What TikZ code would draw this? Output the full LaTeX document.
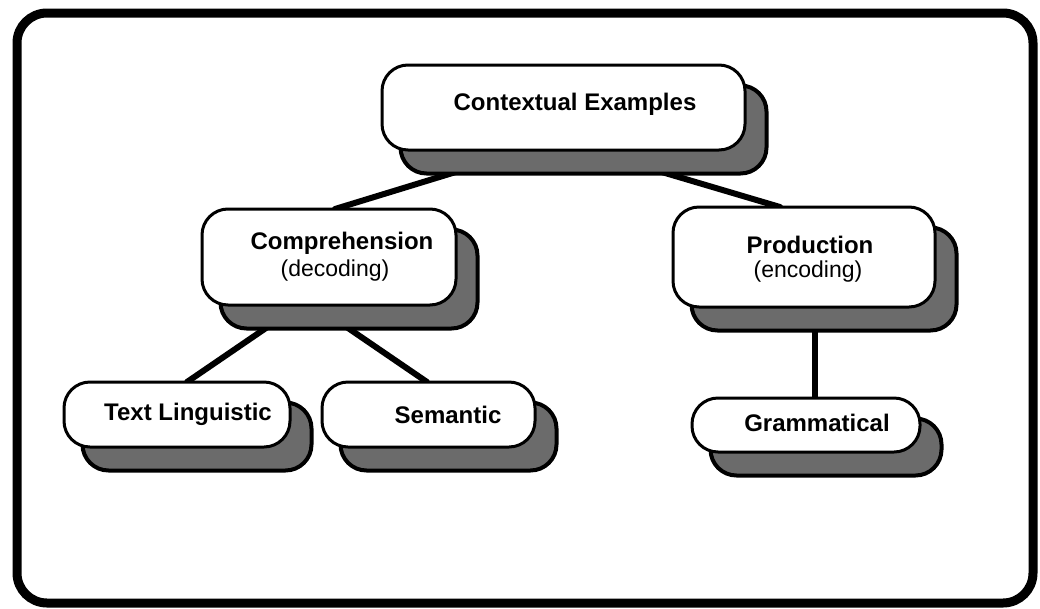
\documentclass[tikz,border=0pt]{standalone}
\usepackage{fontspec}
\setmainfont{Liberation Sans}
\pgfdeclarelayer{connlayer}
\pgfdeclarelayer{shadlayer}
\pgfsetlayers{connlayer,shadlayer,main}
\begin{document}
\begin{tikzpicture}[x=1pt,y=-1pt,
  box/.style={draw=black, line width=3pt, fill=white, rounded corners=26pt, inner sep=0pt},
  shade/.style={fill=black!58, draw=black, line width=4pt, rounded corners=26pt},
  conn/.style={line width=6pt, line cap=round},
  lbl/.style={font=\fontsize{24}{28}\selectfont\bfseries, inner sep=0pt},
  sublbl/.style={font=\fontsize{23}{27}\selectfont, inner sep=0pt}]
\useasboundingbox (0,0) rectangle (1040,608);
\draw[line width=9pt, rounded corners=30pt] (17,13) rectangle (1033,603);

% boxes
\node[box, minimum width=363pt, minimum height=85pt] (ce) at (563.5,107.5) {};
\node[box, minimum width=254pt, minimum height=96pt] (comp) at (329,257) {};
\node[box, minimum width=262pt, minimum height=100pt] (prod) at (804,257) {};
\node[box, minimum width=226pt, minimum height=65pt] (tl) at (177,414.5) {};
\node[box, minimum width=213pt, minimum height=65pt] (sem) at (428.5,414.5) {};
\node[box, minimum width=228pt, minimum height=54pt] (gram) at (806,425) {};

% labels
\node[lbl] (ceT) at (575,104) {Contextual Examples};
\node[lbl] (compT) at (342,243) {Comprehension};
\node[sublbl] (compS) at (335,271) {(decoding)};
\node[lbl] (prodT) at (810,245) {Production};
\node[sublbl] (prodS) at (808,272) {(encoding)};
\node[lbl] (tlT) at (188,414) {Text Linguistic};
\node[lbl] (semT) at (448,415) {Semantic};
\node[lbl] (gramT) at (817,423) {Grammatical};

% attachment points
\coordinate (ceHub) at (557,141);
\coordinate (compIn) at (335,209);
\coordinate (prodIn) at (780,207);
\coordinate (compHub) at (307,300);
\coordinate (tlIn) at (187,382);
\coordinate (semIn) at (427,382);
\coordinate (prodOut) at (815,300);
\coordinate (gramIn) at (815,400);

\begin{pgfonlayer}{shadlayer}
\foreach \n in {ce,comp,prod,tl,sem,gram}
  \path[shade] ([shift={(20,22)}]\n.north west) rectangle ([shift={(20,22)}]\n.south east);
\end{pgfonlayer}

\begin{pgfonlayer}{connlayer}
\draw[conn] (ceHub) -- (compIn);
\draw[conn] (ceHub) -- (prodIn);
\draw[conn] (compHub) -- (tlIn);
\draw[conn] (compHub) -- (semIn);
\draw[conn] (prodOut) -- (gramIn);
\end{pgfonlayer}
\end{tikzpicture}
\end{document}
